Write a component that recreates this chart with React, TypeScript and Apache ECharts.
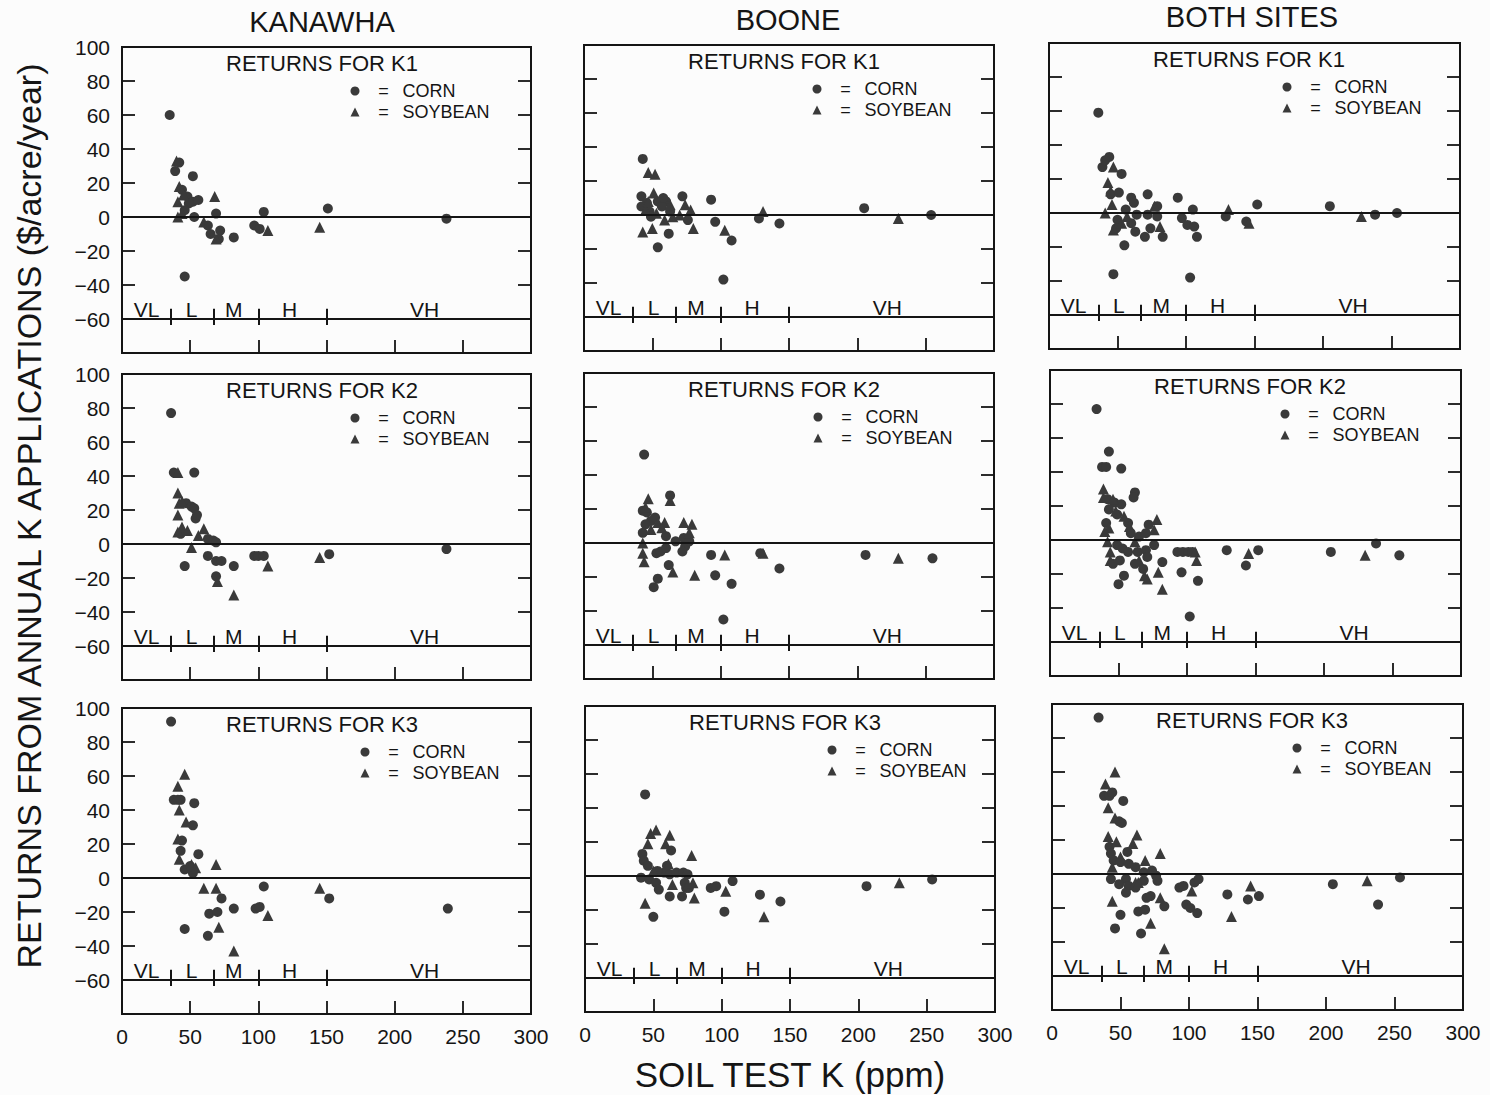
import React, { useEffect, useRef } from 'react';
import * as echarts from 'echarts';

type Pt = [number, number];

// ---------- axis definitions ----------
const X_MIN = 0;
const X_MAX = 300;
const X_STEP = 50;
const Y_MIN = -80;
const Y_MAX = 100;
const Y_STEP = 20;

const siteNames = ['KANAWHA', 'BOONE', 'BOTH SITES'];
const rateNames = ['K1', 'K2', 'K3'];
const seriesNames = ['CORN', 'SOYBEAN'];

// soil-test classes shown along the -60 line
const classNames = ['VL', 'L', 'M', 'H', 'VH'];
const classBounds = [36, 67, 100, 150];
const classLabelX = [18, 51, 82, 123, 222];
const CLASS_LABEL_Y = -54.5;
const CLASS_LINE_Y = -60;

// ---------- data (soil test K ppm, $/acre/year) ----------
const kanawhaK1Corn: Pt[] = [[35,60],[39,27],[42,32],[44,16],[48,12],[52,24],[52,9],[56,10],[49,8],[46,4],[53,0],[63,-5],[69,2],[65,-10],[72,-8],[71,-13],[82,-12],[46,-35],[104,3],[97,-5],[101,-7],[151,5],[238,-1]];
const kanawhaK1Soy: Pt[] = [[40,33],[42,18],[45,13],[41,9],[44,2],[41,0],[60,-3],[68,12],[69,-13],[107,-8],[145,-6]];

const booneK1Corn: Pt[] = [[43,33],[42,11],[46,7],[54,8],[60,8],[57,5],[48,2],[63,2],[42,5],[58,10],[49,-1],[72,11],[76,-3],[62,-11],[54,-19],[93,9],[96,-4],[108,-15],[102,-38],[128,-2],[143,-5],[205,4],[254,0]];
const booneK1Soy: Pt[] = [[47,25],[52,24],[51,13],[45,3],[53,1],[59,-3],[65,-1],[70,0],[74,6],[78,3],[80,-8],[43,-10],[50,-8],[63,6],[47,8],[103,-9],[131,2],[230,-2]];

const bothK1Corn: Pt[] = [[36,59],[44,33],[39,27],[41,31],[53,23],[45,11],[51,12],[60,9],[72,11],[62,6],[79,4],[56,2],[64,-1],[50,-4],[60,-6],[72,-1],[79,-2],[49,-9],[63,-11],[70,-14],[74,-9],[83,-14],[55,-19],[47,-36],[94,9],[105,2],[97,-3],[101,-7],[106,-8],[108,-14],[103,-38],[129,-2],[144,-5],[152,5],[205,4],[238,-1],[254,0]];
const bothK1Soy: Pt[] = [[47,27],[43,18],[41,0],[46,5],[47,-10],[53,-6],[57,-2],[81,-8],[77,4],[45,13],[131,2],[146,-6],[228,-2]];

const kanawhaK2Corn: Pt[] = [[36,77],[38,42],[53,42],[47,24],[51,22],[53,21],[54,15],[55,17],[43,6],[63,3],[67,2],[69,1],[63,-7],[46,-13],[69,-10],[73,-10],[82,-13],[69,-19],[97,-7],[100,-7],[104,-7],[152,-6],[238,-3]];
const kanawhaK2Soy: Pt[] = [[41,42],[41,30],[42,24],[44,25],[41,17],[41,7],[44,10],[48,8],[56,5],[60,9],[51,-2],[70,-22],[82,-30],[107,-13],[145,-8]];

const booneK2Corn: Pt[] = [[44,52],[63,28],[43,19],[46,18],[49,13],[45,11],[43,6],[52,15],[60,4],[67,1],[73,3],[74,-2],[72,-5],[77,1],[53,-6],[56,-5],[60,-3],[62,-13],[54,-21],[51,-26],[93,-7],[96,-19],[108,-24],[102,-45],[129,-6],[143,-15],[206,-7],[255,-9]];
const booneK2Soy: Pt[] = [[47,26],[63,25],[45,21],[54,12],[59,12],[57,9],[49,8],[43,0],[73,12],[79,11],[77,6],[43,-6],[44,-11],[65,-17],[81,-19],[103,-7],[131,-6],[230,-9]];

const bothK2Corn: Pt[] = [[34,77],[43,52],[38,43],[41,43],[52,42],[62,28],[61,25],[42,24],[47,22],[52,21],[43,18],[49,15],[57,10],[41,10],[59,4],[65,2],[70,4],[72,9],[49,-3],[53,-5],[57,-7],[64,-7],[70,-6],[76,-3],[71,-10],[46,-14],[51,-12],[62,-14],[68,-17],[82,-13],[54,-21],[50,-26],[93,-7],[97,-7],[101,-7],[104,-7],[96,-19],[108,-24],[102,-45],[129,-6],[143,-15],[152,-6],[205,-7],[238,-2],[255,-9]];
const bothK2Soy: Pt[] = [[39,30],[39,25],[46,24],[48,17],[54,14],[43,7],[40,5],[42,-1],[78,12],[76,6],[58,8],[62,-1],[44,-7],[44,-12],[65,-12],[79,-19],[71,-23],[69,-21],[82,-29],[106,-7],[107,-12],[145,-8],[230,-9]];

const kanawhaK3Corn: Pt[] = [[36,92],[38,46],[41,46],[43,46],[53,44],[52,31],[44,22],[43,16],[56,14],[46,5],[50,7],[52,3],[73,-12],[64,-21],[70,-20],[82,-18],[46,-30],[63,-34],[98,-18],[101,-17],[104,-5],[152,-12],[239,-18]];
const kanawhaK3Soy: Pt[] = [[46,61],[41,54],[42,40],[47,33],[41,23],[42,11],[51,8],[54,6],[69,8],[60,-6],[69,-6],[71,-29],[82,-43],[107,-22],[145,-6]];

const booneK3Corn: Pt[] = [[44,48],[63,15],[42,13],[43,9],[46,6],[60,6],[58,2],[53,3],[41,-1],[47,-2],[52,-4],[62,1],[67,2],[72,2],[75,1],[73,-4],[74,-7],[54,-8],[62,-12],[71,-12],[76,-7],[50,-24],[92,-7],[96,-6],[108,-3],[102,-21],[128,-11],[143,-15],[206,-6],[254,-2]];
const booneK3Soy: Pt[] = [[52,27],[48,25],[62,24],[59,19],[46,19],[78,12],[50,3],[61,7],[64,-5],[79,-4],[80,-13],[44,-16],[103,-9],[131,-24],[230,-4]];

const bothK3Corn: Pt[] = [[34,92],[38,46],[42,46],[44,48],[52,43],[51,30],[49,31],[55,13],[42,16],[43,12],[45,8],[50,7],[56,6],[61,4],[67,1],[73,2],[76,-1],[77,-4],[67,-4],[54,-3],[43,-3],[49,-6],[56,-7],[61,-8],[54,-11],[72,-13],[69,-14],[82,-19],[50,-24],[46,-32],[65,-35],[63,-22],[68,-21],[93,-8],[96,-7],[104,-5],[107,-3],[98,-18],[101,-20],[106,-23],[128,-12],[143,-15],[151,-13],[205,-6],[238,-18],[254,-2]];
const bothK3Soy: Pt[] = [[46,60],[39,53],[41,39],[46,33],[41,22],[62,23],[59,18],[47,19],[79,12],[68,8],[50,10],[44,4],[61,-5],[63,-5],[79,-14],[44,-16],[72,-29],[82,-44],[102,-10],[131,-25],[145,-7],[230,-4]];

// [row][col]
const cornByPanel: Pt[][][] = [
  [kanawhaK1Corn, booneK1Corn, bothK1Corn],
  [kanawhaK2Corn, booneK2Corn, bothK2Corn],
  [kanawhaK3Corn, booneK3Corn, bothK3Corn],
];
const soyByPanel: Pt[][][] = [
  [kanawhaK1Soy, booneK1Soy, bothK1Soy],
  [kanawhaK2Soy, booneK2Soy, bothK2Soy],
  [kanawhaK3Soy, booneK3Soy, bothK3Soy],
];

// ---------- layout (pixels) ----------
const GRID_LEFT = [[122, 584, 1049], [122, 584, 1050], [122, 585, 1052]];
const GRID_TOP = [[47, 45, 43], [374, 373, 370], [708, 706, 704]];
const GRID_W = [409, 410, 411];
const GRID_H = 306;
const LEGEND_DX = [[233, 233, 238], [233, 234, 235], [243, 247, 245]];
const LEGEND_DY = 44;

const FONT = "'Liberation Sans', Arial, Helvetica, sans-serif";
const INK = '#151515';
const MARK = '#3a3a3a';

function fmtY(v: number): string {
  if (v === Y_MIN) return '';
  return v < 0 ? '\u2212' + Math.abs(v) : String(v);
}

function buildOption() {
  const grid: any[] = [];
  const xAxis: any[] = [];
  const yAxis: any[] = [];
  const series: any[] = [];
  const legend: any[] = [];
  const graphic: any[] = [];

  for (let r = 0; r < 3; r++) {
    for (let c = 0; c < 3; c++) {
      const i = r * 3 + c;
      const left = GRID_LEFT[r][c];
      const top = GRID_TOP[r][c];
      const width = GRID_W[c];
      grid.push({
        left, top, width, height: GRID_H,
        show: true, borderColor: INK, borderWidth: 2,
        backgroundColor: 'transparent', containLabel: false, outerBoundsMode: 'none',
      });
      xAxis.push({
        type: 'value', gridIndex: i, min: X_MIN, max: X_MAX, interval: X_STEP,
        position: 'bottom',
        axisLine: { show: false, onZero: false },
        axisTick: { show: true, inside: true, length: 13, lineStyle: { color: INK, width: 1.8 } },
        axisLabel: { show: r === 2, fontSize: 21, color: INK, fontFamily: FONT, margin: 12 },
        splitLine: { show: false },
      });
      const yBase = {
        type: 'value', gridIndex: i, min: Y_MIN, max: Y_MAX, interval: Y_STEP,
        axisLine: { show: false, onZero: false },
        axisTick: { show: true, inside: true, length: 13, lineStyle: { color: INK, width: 1.8 } },
        splitLine: { show: false },
      };
      yAxis.push({
        ...yBase, position: 'left',
        axisLabel: { show: c === 0, fontSize: 21, color: INK, fontFamily: FONT, margin: 12, formatter: fmtY },
      });
      yAxis.push({ ...yBase, position: 'right', axisLabel: { show: false } });

      const markLineData: any[] = [
        { yAxis: 0 },
        { yAxis: CLASS_LINE_Y },
        ...classBounds.map((b) => [{ coord: [b, CLASS_LINE_Y + 6] }, { coord: [b, CLASS_LINE_Y - 3.5] }]),
      ];

      series.push({
        type: 'scatter', name: seriesNames[0], xAxisIndex: i, yAxisIndex: 2 * i,
        data: cornByPanel[r][c], symbol: 'circle', symbolSize: 10,
        itemStyle: { color: MARK, opacity: 1 }, silent: true, z: 3,
        markLine: {
          silent: true, symbol: ['none', 'none'], label: { show: false },
          lineStyle: { color: INK, width: 2, type: 'solid', opacity: 1 },
          emphasis: { disabled: true },
          data: markLineData,
        },
      });
      series.push({
        type: 'scatter', name: seriesNames[1], xAxisIndex: i, yAxisIndex: 2 * i,
        data: soyByPanel[r][c], symbol: 'triangle', symbolSize: 11,
        itemStyle: { color: MARK, opacity: 1 }, silent: true, z: 3,
      });
      series.push({
        type: 'scatter', name: 'class', xAxisIndex: i, yAxisIndex: 2 * i,
        data: classNames.map((n, k) => ({ name: n, value: [classLabelX[k], CLASS_LABEL_Y] })),
        symbolSize: 0, itemStyle: { color: INK, opacity: 1 }, silent: true,
        label: {
          show: true, position: [0, 0], align: 'center', verticalAlign: 'middle',
          formatter: '{b}', fontSize: 21, color: INK, fontFamily: FONT, opacity: 1,
        },
      });

      const iconX = left + LEGEND_DX[r][c];
      const iconY = top + LEGEND_DY;
      legend.push({
        orient: 'vertical', left: iconX - 4.5, top: iconY - 10.5, padding: 0,
        itemWidth: 9, itemHeight: 9, itemGap: 0, selectedMode: false,
        itemStyle: { opacity: 1 },
        data: [{ name: seriesNames[0], icon: 'circle' }, { name: seriesNames[1], icon: 'triangle' }],
        formatter: (name: string) => `{eq|=}{nm|${name}}`,
        textStyle: {
          color: INK, fontSize: 18, fontFamily: FONT, lineHeight: 21,
          rich: {
            eq: { width: 38, align: 'center', fontSize: 18, fontFamily: FONT, color: INK, lineHeight: 21 },
            nm: { fontSize: 18, fontFamily: FONT, color: INK, lineHeight: 21 },
          },
        },
      });

      graphic.push({
        type: 'text', x: left + 200, y: top + 16.5, silent: true,
        style: { text: 'RETURNS FOR ' + rateNames[r], fontSize: 22, fontFamily: FONT, fill: INK, align: 'center', verticalAlign: 'middle' },
      });
    }
  }

  const headerX = [322, 788, 1252];
  const headerY = [22, 20, 17];
  siteNames.forEach((s, c) => {
    graphic.push({
      type: 'text', x: headerX[c], y: headerY[c], silent: true,
      style: { text: s, fontSize: 29, fontFamily: FONT, fill: INK, align: 'center', verticalAlign: 'middle' },
    });
  });
  graphic.push({
    type: 'text', x: 790, y: 1074, silent: true,
    style: { text: 'SOIL TEST K (ppm)', fontSize: 35, fontFamily: FONT, fill: INK, align: 'center', verticalAlign: 'middle' },
  });
  graphic.push({
    type: 'text', x: 29, y: 516, rotation: Math.PI / 2, silent: true,
    style: { text: 'RETURNS FROM ANNUAL K APPLICATIONS ($/acre/year)', fontSize: 34, fontFamily: FONT, fill: INK, align: 'center', verticalAlign: 'middle' },
  });

  return {
    animation: false,
    backgroundColor: '#fcfcfc',
    grid, xAxis, yAxis, series, legend, graphic,
  };
}

export default function App() {
  const ref = useRef<HTMLDivElement>(null);
  useEffect(() => {
    if (!ref.current) return;
    const chart = echarts.init(ref.current, undefined, { renderer: 'svg' });
    chart.setOption(buildOption() as any);
    return () => chart.dispose();
  }, []);
  return (
    <div
      ref={ref}
      style={{ position: 'fixed', left: 0, top: 0, width: 1490, height: 1095, background: '#fcfcfc' }}
    />
  );
}
